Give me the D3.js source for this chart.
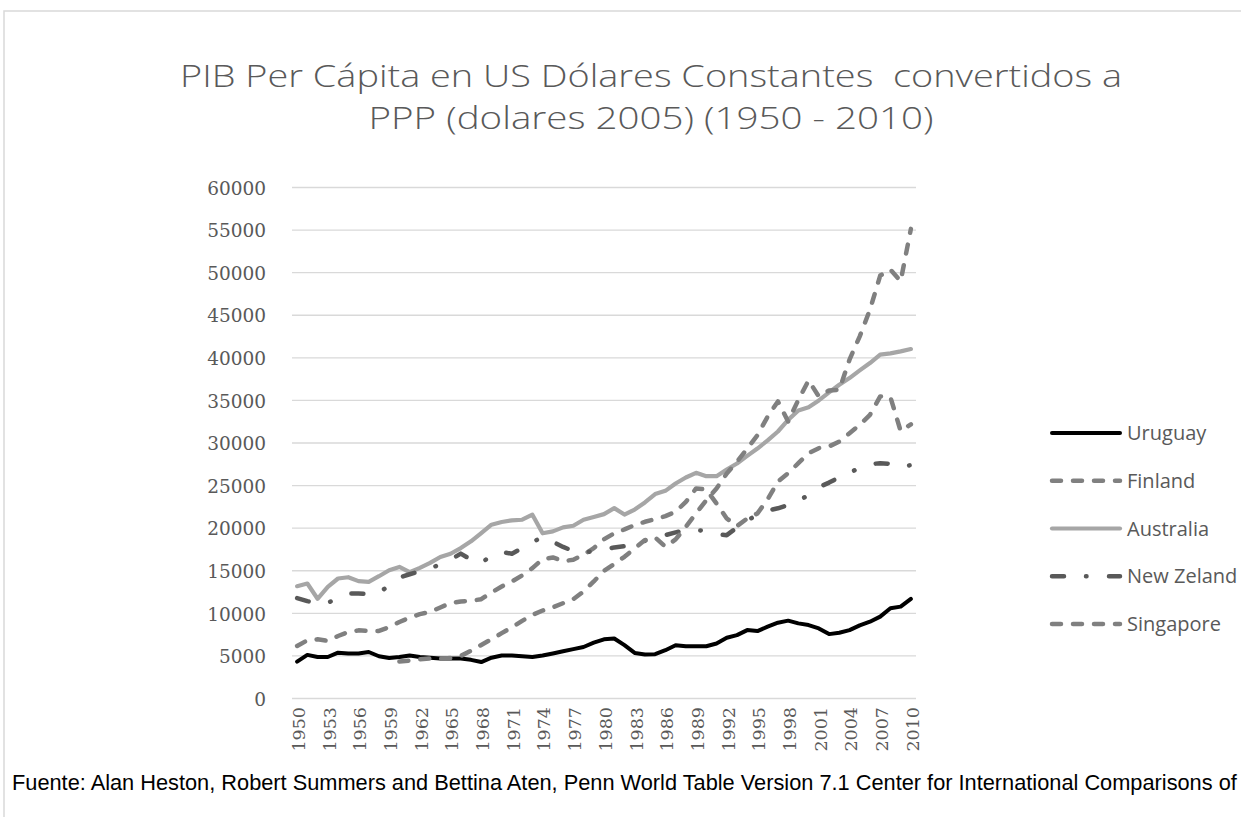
<!DOCTYPE html>
<html><head><meta charset="utf-8">
<script src="https://cdn.jsdelivr.net/npm/d3@7"></script>
<style>html,body{margin:0;padding:0;background:#fff;} svg{display:block;}</style>
</head><body>
<svg id="chart" width="1241" height="817"></svg>
<script>
// ---- DATA ----
const years = d3.range(1950, 2011);
const xTickLabels = ["1950","1953","1956","1959","1962","1965","1968","1971","1974","1977","1980","1983","1986","1989","1992","1995","1998","2001","2004","2007","2010"];
const yTicks = [0,5000,10000,15000,20000,25000,30000,35000,40000,45000,50000,55000,60000];
const seriesNames = ["Uruguay","Finland","Australia","New Zeland","Singapore"];

const uruguay = [4330,5120,4870,4870,5380,5290,5290,5460,4960,4750,
  4870,5040,4870,4790,4700,4700,4700,4540,4280,4790,
  5040,5040,4960,4870,5040,5290,5540,5800,6050,6550,
  6950,7050,6260,5350,5160,5200,5670,6260,6140,6140,
  6140,6460,7130,7440,8030,7920,8430,8900,9140,8820,
  8620,8230,7560,7720,8030,8590,9020,9610,10590,10790,11700];
const finland = [6170,6830,6950,6760,7340,7810,8000,7930,7930,8390,
  8980,9490,9910,10150,10690,11200,11400,11470,11660,12450,
  13150,13740,14450,15310,16370,16560,16130,16290,16880,17660,
  18700,19400,19850,20360,20750,21060,21410,21920,23090,24660,
  24540,22900,21140,20240,21140,21730,23400,25470,26450,27630,
  28800,29390,29590,30170,31150,32130,33310,35470,35390,31400,32200];
const australia = [13190,13500,11710,13110,14090,14240,13780,13700,14360,15060,
  15450,14830,15340,15920,16620,17000,17660,18450,19430,20410,
  20720,20920,20990,21580,19400,19620,20090,20290,20990,21310,
  21650,22350,21600,22190,23020,24000,24380,25240,25950,26500,
  26100,26100,26890,27590,28490,29350,30300,31350,32720,33820,
  34210,35000,35940,36840,37620,38520,39390,40370,40520,40760,41030];
const newZealand = [11790,11440,11160,11240,11800,12330,12330,12250,12400,13300,
  14200,14590,14950,15300,15730,16310,17010,16300,15820,16900,
  17190,17000,17660,18300,19030,18400,17800,17300,17200,17270,
  17450,17740,17890,18090,18520,18990,19180,19500,19770,19770,
  19690,19300,19180,20080,20940,21530,22070,22330,22730,23200,
  23900,24800,25350,25980,26450,27160,27510,27630,27550,27200,27400];
const singapore = [null,null,null,null,null,null,null,null,null,null,
  4340,4450,4600,4700,4650,4750,5000,5600,6290,6960,
  7670,8370,9120,9820,10330,10720,11190,11660,12570,13740,
  15000,15800,16640,17620,18600,18910,17820,18680,20160,21730,
  23290,24660,26420,27790,29350,30910,33110,34880,32530,35070,
  37350,35470,36170,36250,39780,42520,45660,49660,50360,48990,55140];

const seriesValues = [uruguay, finland, australia, newZealand, singapore];

// ---- STYLES ----
const styles = [
  {color:"#000000", width:4, dash:null},
  {color:"#808080", width:4.5, dash:"9 12"},
  {color:"#a6a6a6", width:4.2, dash:null},
  {color:"#595959", width:4.5, dash:"12 22 0.5 22.5"},
  {color:"#808080", width:4.5, dash:"9 12"}
];

const svg = d3.select("#chart");
const textColor = "#595959";

// border
svg.append("rect").attr("x",4).attr("y",11).attr("width",1260).attr("height",830)
  .attr("fill","none").attr("stroke","#d9d9d9").attr("stroke-width",1.5);

// scales
const x = d3.scaleBand().domain(years).range([292, 916]);
const xc = yr => x(yr) + x.bandwidth()/2;
const y = d3.scaleLinear().domain([0,60000]).range([698.5, 187.5]);

// gridlines
svg.append("g").selectAll("line").data(yTicks).join("line")
  .attr("x1",292).attr("x2",916)
  .attr("y1",d=>y(d)).attr("y2",d=>y(d))
  .attr("stroke","#d9d9d9").attr("stroke-width",1.3);

// y-axis labels
const yAxis = d3.axisLeft(y).tickValues(yTicks).tickSize(0).tickPadding(0).tickFormat(d3.format("d"));
const gy = svg.append("g").attr("transform","translate(266,0)").call(yAxis);
gy.select(".domain").remove();
gy.selectAll("text").attr("font-family","DejaVu Serif, Liberation Serif, serif")
  .attr("font-size",18.5).attr("fill",textColor).attr("dy","0.36em");

// x-axis labels
const xAxis = d3.axisBottom(d3.scalePoint().domain(years.map(String)).range([xc(1950), xc(2010)]))
  .tickValues(xTickLabels).tickSize(0).tickPadding(0);
const gx = svg.append("g").attr("transform","translate(1,707)").call(xAxis);
gx.select(".domain").remove();
gx.selectAll("text").attr("font-family","DejaVu Serif, Liberation Serif, serif")
  .attr("font-size",17.5).attr("fill",textColor)
  .attr("transform","rotate(-90)").attr("text-anchor","end")
  .attr("x",0).attr("y",0).attr("dy","0.36em");

// lines
const line = d3.line().defined(d => d != null)
  .x((d,i) => xc(years[i])).y(d => y(d));
seriesValues.forEach((vals, k) => {
  const st = styles[k];
  svg.append("path").datum(vals).attr("d", line)
    .attr("fill","none").attr("stroke",st.color).attr("stroke-width",st.width)
    .attr("stroke-linejoin","round").attr("stroke-linecap","round")
    .attr("stroke-dasharray", st.dash);
});

// legend
const legY = d3.scalePoint().domain(seriesNames).range([433, 624]);
const leg = svg.append("g");
seriesNames.forEach((name,k) => {
  const st = styles[k];
  const yy = legY(name);
  leg.append("line").attr("x1",1052).attr("x2",1120).attr("y1",yy).attr("y2",yy)
    .attr("stroke",st.color).attr("stroke-width",st.width)
    .attr("stroke-linecap","round").attr("stroke-dasharray", k===3 ? "12 22 0.5 22.5" : st.dash);
  leg.append("text").attr("x",1127).attr("y",yy).attr("dy","0.35em")
    .attr("font-family","Open Sans, Liberation Sans, sans-serif").attr("font-size",20)
    .attr("fill",textColor).text(name);
});

// title
const titleLines = ["PIB Per Cápita en US Dólares Constantes  convertidos a","PPP (dolares 2005) (1950 - 2010)"];
const tfs = 31;
const tg = svg.append("g");
tg.append("text").attr("x",651).attr("y",87).attr("text-anchor","middle")
  .attr("font-family","Open Sans, Lato, sans-serif").attr("font-weight",300)
  .attr("font-size",tfs).attr("fill",textColor).attr("xml:space","preserve")
  .attr("textLength",942).attr("lengthAdjust","spacingAndGlyphs")
  .style("white-space","pre").text(titleLines[0]);
tg.append("text").attr("x",651).attr("y",129).attr("text-anchor","middle")
  .attr("font-family","Open Sans, Lato, sans-serif").attr("font-weight",300)
  .attr("font-size",tfs).attr("fill",textColor)
  .attr("textLength",565).attr("lengthAdjust","spacingAndGlyphs")
  .text(titleLines[1]);

// footnote
const fn = svg.append("text").attr("x",12).attr("y",790)
  .attr("font-family","Liberation Sans, Arial, sans-serif").attr("font-size",18)
  .attr("fill","#000").text("Fuente: Alan Heston, Robert Summers and Bettina Aten, Penn World Table Version 7.1 Center for International Comparisons of");
const wf = fn.node().getComputedTextLength();
fn.attr("font-size", 18 * 1226 / wf);
</script>
</body></html>
